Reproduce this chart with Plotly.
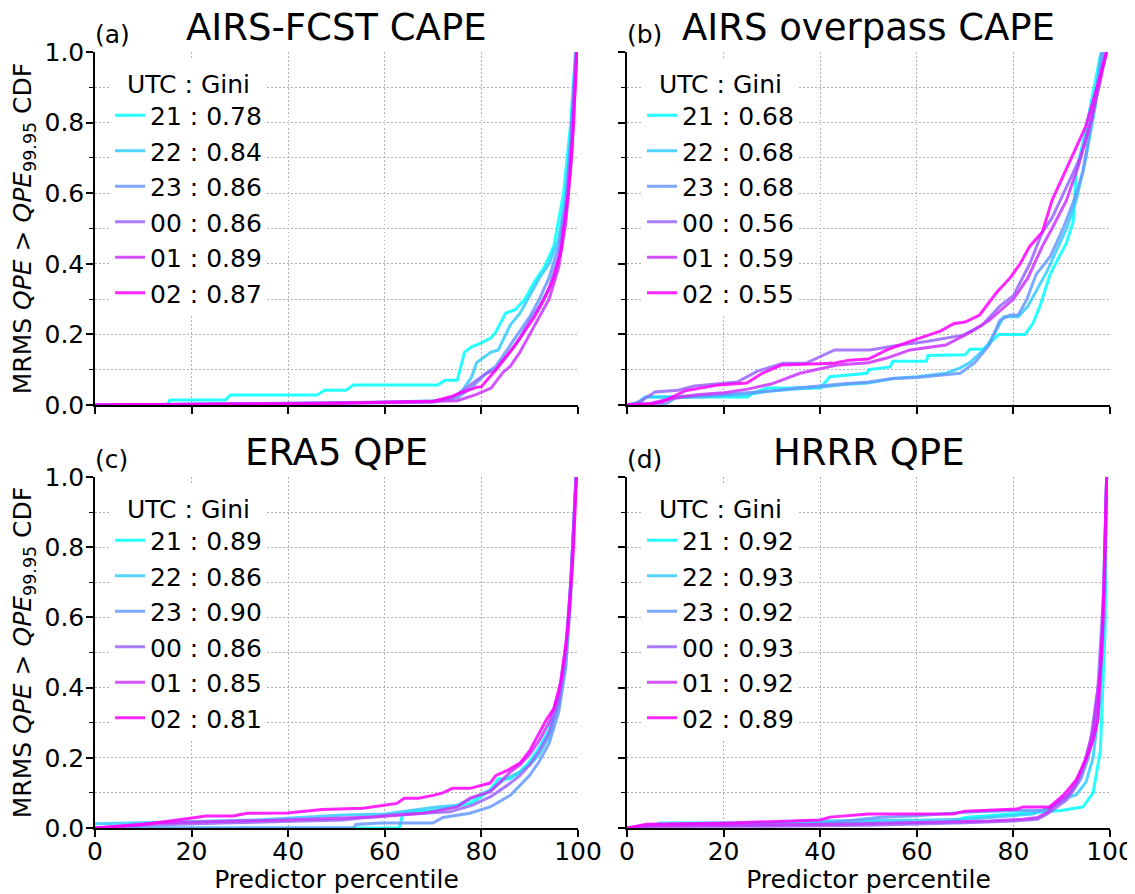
import plotly.graph_objects as go

# page body has an 8px margin in the browser; the figure is sized to fill the rest
OFF = 8
W, H = 1135 - OFF, 894 - OFF

utc_hours = ["21", "22", "23", "00", "01", "02"]
panel_titles = ["AIRS-FCST CAPE", "AIRS overpass CAPE", "ERA5 QPE", "HRRR QPE"]
panel_labels = ["(a)", "(b)", "(c)", "(d)"]
gini_a = ["0.78", "0.84", "0.86", "0.86", "0.89", "0.87"]
gini_b = ["0.68", "0.68", "0.68", "0.56", "0.59", "0.55"]
gini_c = ["0.89", "0.86", "0.90", "0.86", "0.85", "0.81"]
gini_d = ["0.92", "0.93", "0.92", "0.93", "0.92", "0.89"]
x_ticks = [0, 20, 40, 60, 80, 100]
y_ticks = [0.0, 0.2, 0.4, 0.6, 0.8, 1.0]

# ---- panel (a) AIRS-FCST CAPE : (percentile, CDF) ----
a_21 = [[0,0],[15,0],[15.5,0.014],[27,0.014],[28,0.028],[46,0.028],[47.5,0.042],[52,0.042],[53.5,0.057],[71,0.057],[72.5,0.07],[75,0.07],[76.5,0.15],[78,0.165],[80,0.176],[82,0.19],[83,0.207],[85,0.26],[87,0.27],[89,0.30],[91,0.35],[93,0.39],[95,0.45],[97,0.6],[98.5,0.8],[99.5,1.0]]
a_22 = [[0,0],[20,0.003],[40,0.005],[60,0.008],[70,0.012],[74,0.02],[76,0.04],[78,0.08],[79,0.12],[80,0.13],[82,0.15],[83.5,0.156],[86,0.227],[88,0.26],[90,0.31],[92,0.36],[94,0.40],[96,0.47],[97.5,0.6],[98.5,0.75],[99.5,1.0]]
a_23 = [[0,0],[40,0.003],[70,0.008],[75,0.02],[78,0.05],[81,0.09],[83,0.11],[86,0.17],[88,0.21],[90,0.25],[92,0.30],[94,0.36],[96,0.45],[97.5,0.58],[98.5,0.75],[99.6,1.0]]
a_00 = [[0,0],[30,0.003],[70,0.01],[74,0.02],[77,0.05],[79,0.07],[81,0.09],[83,0.1],[86,0.15],[88,0.19],[90,0.24],[92,0.28],[94,0.33],[96,0.42],[97.5,0.55],[98.5,0.72],[99.6,1.0]]
a_01 = [[0,0],[50,0.005],[75,0.012],[79,0.03],[82,0.048],[84.5,0.093],[86,0.11],[88,0.15],[90,0.2],[92,0.25],[94,0.3],[96,0.39],[97.5,0.52],[98.7,0.7],[99.7,1.0]]
a_02 = [[0,0],[40,0.003],[70,0.01],[74,0.025],[75.6,0.034],[79,0.05],[80,0.052],[83,0.1],[85,0.136],[87,0.17],[89,0.21],[91,0.25],[93,0.3],[95,0.36],[96.5,0.44],[98,0.6],[99,0.78],[99.8,1.0]]

# ---- panel (b) AIRS overpass CAPE ----
b_21 = [[0,0],[2,0.005],[3.7,0.023],[25,0.023],[26,0.033],[29,0.048],[40,0.048],[42,0.08],[49.7,0.09],[50,0.10],[54.5,0.108],[55,0.124],[62,0.124],[62.3,0.14],[70,0.142],[71,0.158],[73.7,0.158],[77,0.20],[82.4,0.20],[84,0.23],[85.5,0.28],[87.6,0.37],[91,0.46],[92.4,0.52],[93,0.66],[95,0.78],[98,0.99],[98.3,1.0]]
b_22 = [[0,0],[3,0.01],[4,0.023],[15,0.023],[25,0.03],[30,0.04],[35,0.045],[40,0.05],[45,0.058],[50,0.062],[55,0.075],[60,0.08],[66,0.09],[69,0.105],[71,0.12],[74.5,0.165],[78,0.25],[81,0.25],[83,0.28],[85,0.33],[87,0.38],[89,0.44],[91,0.5],[93,0.58],[95,0.7],[97,0.85],[98.5,1.0]]
b_23 = [[0,0],[8,0.003],[10,0.02],[20,0.03],[25,0.035],[30,0.04],[35,0.048],[40,0.055],[45,0.06],[50,0.065],[55,0.075],[60,0.078],[65,0.085],[69,0.09],[72,0.12],[75,0.17],[77.2,0.24],[79.3,0.255],[81,0.255],[82.8,0.30],[84.7,0.37],[87.6,0.42],[90.3,0.50],[92.8,0.59],[94.4,0.66],[96.5,0.83],[98.3,1.0]]
b_00 = [[0,0],[2,0.005],[5,0.03],[5.8,0.037],[10.6,0.042],[14,0.054],[22.8,0.065],[27,0.096],[32.3,0.118],[37,0.118],[43,0.156],[50.3,0.156],[56.5,0.17],[62,0.18],[69.6,0.198],[73.5,0.226],[77.2,0.28],[80,0.31],[83.4,0.40],[86,0.49],[88,0.53],[91,0.62],[93.8,0.70],[95.9,0.80],[98,0.92],[99,1.0]]
b_01 = [[0,0],[5,0.005],[8,0.015],[12,0.025],[15,0.03],[20,0.035],[25,0.045],[30,0.06],[35.8,0.09],[43.5,0.113],[50,0.12],[53.8,0.133],[58.6,0.156],[66,0.17],[71.6,0.21],[75,0.24],[80,0.30],[83,0.36],[86,0.45],[88,0.5],[91,0.58],[93.5,0.68],[96,0.8],[98,0.92],[99.3,1.0]]
b_02 = [[0,0],[5,0.003],[7.5,0.01],[12,0.04],[19,0.057],[24.8,0.062],[28,0.09],[32,0.113],[42.6,0.118],[46,0.127],[50,0.13],[53.8,0.156],[58.6,0.18],[65,0.21],[67.6,0.23],[70,0.235],[73,0.255],[76.6,0.32],[79.3,0.36],[81.4,0.40],[83.4,0.45],[86,0.49],[88,0.58],[90.3,0.65],[93.4,0.74],[95,0.79],[97.3,0.90],[99.3,1.0]]

# ---- panel (c) ERA5 QPE ----
c_21 = [[0,0],[63,0],[63.5,0.03],[64,0.042],[66,0.046],[70,0.05],[74,0.06],[77.6,0.07],[79,0.08],[81.8,0.108],[83.5,0.14],[86,0.14],[88,0.16],[90,0.19],[92,0.23],[94,0.28],[96,0.37],[97.5,0.5],[98.5,0.7],[99.6,1.0]]
c_22 = [[0,0.012],[33.5,0.023],[51.5,0.037],[60,0.04],[70.7,0.06],[75,0.065],[79,0.09],[82,0.11],[85,0.14],[88,0.16],[90,0.18],[92,0.21],[94,0.26],[96,0.35],[97.5,0.48],[98.5,0.68],[99.6,1.0]]
c_23 = [[0,0],[53.5,0],[54,0.01],[59,0.014],[70,0.014],[72,0.03],[77.6,0.042],[81.8,0.06],[86,0.093],[88,0.12],[90,0.15],[92,0.19],[94,0.24],[96,0.33],[97.5,0.46],[98.5,0.66],[99.6,1.0]]
c_00 = [[0,0],[10,0.008],[26.5,0.014],[51.3,0.023],[61,0.037],[73.5,0.046],[78.3,0.066],[82,0.09],[86,0.128],[88,0.15],[90,0.18],[92,0.22],[94,0.27],[96,0.36],[97.5,0.5],[98.5,0.7],[99.6,1.0]]
c_01 = [[0,0],[12.8,0.014],[39,0.023],[58,0.031],[68,0.042],[75,0.06],[77.6,0.085],[81.8,0.103],[86,0.16],[88,0.18],[90,0.21],[92,0.25],[94,0.3],[96,0.38],[97.5,0.52],[98.5,0.7],[99.6,1.0]]
c_02 = [[0,0],[10,0.01],[19.7,0.028],[23,0.034],[28.6,0.034],[31.5,0.042],[39.8,0.043],[47,0.053],[55.5,0.056],[59.6,0.063],[62.5,0.07],[64,0.085],[67,0.085],[70,0.093],[72,0.10],[74,0.113],[77.6,0.113],[81.8,0.128],[83,0.15],[85.5,0.165],[88,0.185],[90,0.22],[92,0.27],[93.5,0.31],[95,0.34],[96.5,0.42],[98,0.58],[99,0.78],[99.7,1.0]]

# ---- panel (d) HRRR QPE ----
d_21 = [[0,0],[5,0.005],[6.8,0.014],[30,0.014],[50,0.014],[66,0.016],[70,0.03],[75,0.035],[80,0.04],[85,0.045],[90,0.05],[92,0.055],[94.4,0.06],[96.5,0.10],[98,0.22],[99,0.57],[99.3,1.0]]
d_22 = [[0,0],[5,0.01],[30,0.014],[36,0.02],[60,0.022],[70,0.025],[75,0.03],[80,0.035],[84,0.04],[87,0.055],[89,0.07],[91,0.085],[93,0.095],[95,0.13],[96.5,0.2],[97.8,0.35],[98.8,0.6],[99.3,1.0]]
d_23 = [[0,0],[5,0.008],[20,0.01],[40,0.012],[52,0.03],[60,0.035],[70,0.045],[80,0.05],[86,0.05],[88,0.06],[90,0.085],[92,0.1],[94,0.14],[95.5,0.2],[97,0.3],[98.3,0.5],[99.3,1.0]]
d_00 = [[0,0],[5,0.005],[30,0.005],[50,0.008],[70,0.015],[80,0.02],[85,0.025],[87,0.04],[89,0.06],[91,0.08],[93,0.12],[94.5,0.17],[96,0.25],[97.5,0.4],[98.8,0.7],[99.3,1.0]]
d_01 = [[0,0],[5,0.005],[40,0.01],[60,0.015],[75,0.02],[82,0.025],[85,0.03],[87,0.045],[89,0.07],[91,0.09],[93,0.13],[95,0.2],[96.5,0.28],[98,0.45],[98.9,0.7],[99.3,1.0]]
d_02 = [[0,0],[4,0.011],[21,0.014],[40,0.023],[42,0.031],[50,0.04],[67.5,0.04],[70,0.048],[80.7,0.054],[82,0.06],[87.5,0.06],[90.3,0.093],[93,0.137],[95,0.194],[96.5,0.25],[97.5,0.31],[98.5,0.57],[99.3,1.0]]

panels = [
    [a_21, a_22, a_23, a_00, a_01, a_02],
    [b_21, b_22, b_23, b_00, b_01, b_02],
    [c_21, c_22, c_23, c_00, c_01, c_02],
    [d_21, d_22, d_23, d_00, d_01, d_02],
]
ginis = [gini_a, gini_b, gini_c, gini_d]

# matplotlib "cool" colormap sampled at 6 points
def cool(t):
    return "rgb(%d,%d,255)" % (round(255 * t), round(255 * (1 - t)))
colors = [cool(i / 5) for i in range(6)]

FONT = "DejaVu Sans"
FS = 25

def px(x):
    return (x - OFF) / W

def py(y):
    return 1 - (y - OFF) / H

# layout geometry (screen pixels)
xdom = [(95, 578), (627, 1110)]
ydom = [(52, 405), (477, 828)]

fig = go.Figure()
legend_names = ["legend", "legend2", "legend3", "legend4"]
for pi in range(4):
    xs = "x" if pi == 0 else "x%d" % (pi + 1)
    ys = "y" if pi == 0 else "y%d" % (pi + 1)
    for li, curve in enumerate(panels[pi]):
        fig.add_trace(go.Scatter(
            x=[p[0] for p in curve], y=[p[1] for p in curve],
            mode="lines", line=dict(color=colors[li], width=3),
            opacity=0.85,
            name="%s : %s" % (utc_hours[li], ginis[pi][li]),
            xaxis=xs, yaxis=ys, legend=legend_names[pi],
            legendgroup="p%d_%d" % (pi, li),
        ))

layout = dict(
    width=W, height=H, margin=dict(l=0, r=0, t=0, b=0),
    paper_bgcolor="white", plot_bgcolor="white",
    font=dict(family=FONT, size=FS, color="black"),
    showlegend=True,
)

GRID = "#b0b0b0"
DASH = "1.5px,2.5px"
annotations = []
for pi in range(4):
    col, row = pi % 2, pi // 2
    x0, x1 = xdom[col]
    y0, y1 = ydom[row]
    xk = "xaxis" if pi == 0 else "xaxis%d" % (pi + 1)
    yk = "yaxis" if pi == 0 else "yaxis%d" % (pi + 1)
    ax_common = dict(
        showline=True, linecolor="black", linewidth=1.5,
        ticks="outside", ticklen=7, tickwidth=1.5, tickcolor="black",
        showgrid=True, gridcolor=GRID, griddash=DASH, gridwidth=1,
        zeroline=False, tickfont=dict(family=FONT, size=FS),
        automargin=False,
    )
    xa = dict(
        ax_common, domain=[px(x0), px(x1)], range=[0, 100],
        tickvals=x_ticks, ticktext=[str(v) for v in x_ticks],
        showticklabels=(row == 1), ticklabelstandoff=-7,
        anchor="y" if pi == 0 else "y%d" % (pi + 1),
    )
    if row == 1:
        xa["title"] = dict(text="Predictor percentile", font=dict(size=FS), standoff=10)
    layout[xk] = xa
    ya = dict(
        ax_common, domain=[py(y1), py(y0)], range=[0, 1.0],
        tickvals=y_ticks, ticktext=["%.1f" % v for v in y_ticks],
        showticklabels=(col == 0), ticklabelstandoff=-3,
        anchor="x" if pi == 0 else "x%d" % (pi + 1),
        minor=dict(dtick=0.1, tick0=0, ticks="outside", ticklen=4,
                   tickwidth=1.2, tickcolor="black", showgrid=True,
                   gridcolor=GRID, griddash=DASH, gridwidth=1),
    )
    if col == 0:
        ya["title"] = dict(text="MRMS <i>QPE</i> > <i>QPE</i><sub>99.95</sub> CDF",
                           font=dict(size=FS), standoff=6)
    layout[yk] = ya
    # legend
    layout[legend_names[pi]] = dict(
        x=px(x0 + 15), y=py(y0 + 8), xanchor="left", yanchor="top",
        bgcolor="white", borderwidth=0,
        font=dict(family=FONT, size=FS),
        title=dict(text="UTC : Gini", side="top center", font=dict(size=FS)),
        traceorder="normal", tracegroupgap=0,
    )
    # panel title and label
    annotations.append(dict(
        text=panel_titles[pi], xref="paper", yref="paper",
        x=px((x0 + x1) / 2), y=py(y0 - 25), xanchor="center", yanchor="middle",
        showarrow=False, font=dict(family=FONT, size=37),
    ))
    annotations.append(dict(
        text=panel_labels[pi], xref="paper", yref="paper",
        x=px(x0 - 2), y=py(y0 - 17), xanchor="left", yanchor="middle",
        showarrow=False, font=dict(family=FONT, size=FS),
    ))
layout["annotations"] = annotations
fig.update_layout(**layout)
fig.write_html("out.html")
